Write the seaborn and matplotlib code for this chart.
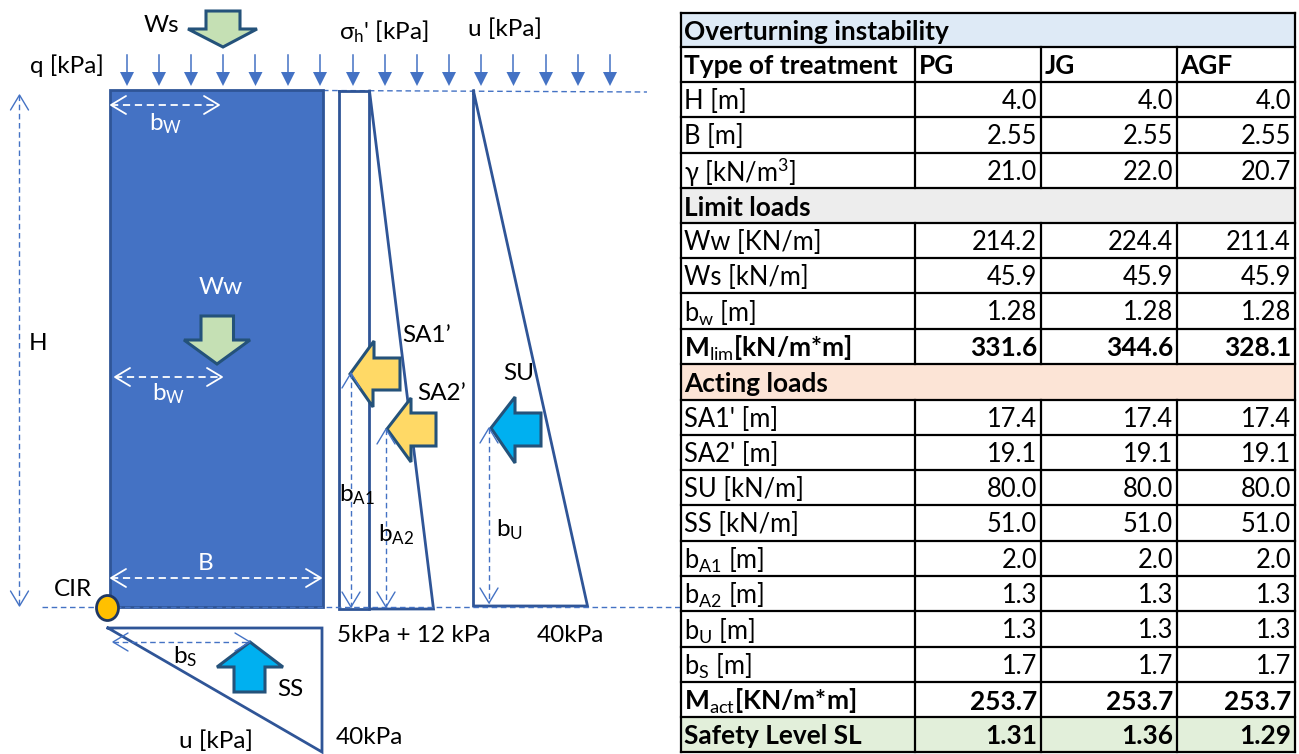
import math
import matplotlib
matplotlib.use("Agg")
import matplotlib.pyplot as plt
import seaborn as sns
from matplotlib.patches import Ellipse, Polygon, Rectangle

# ---------- table data ----------
title_row = "Overturning instability"
header_row = ["Type of treatment", "PG", "JG", "AGF"]
geom_labels = ["H [m]", "B [m]", r"$\gamma$ [kN/m$^{3}$]"]
geom_pg = ["4.0", "2.55", "21.0"]
geom_jg = ["4.0", "2.55", "22.0"]
geom_agf = ["4.0", "2.55", "20.7"]
limit_title = "Limit loads"
limit_labels = ["Ww [KN/m]", "Ws [kN/m]", r"b$_{\mathrm{w}}$ [m]"]
limit_pg = ["214.2", "45.9", "1.28"]
limit_jg = ["224.4", "45.9", "1.28"]
limit_agf = ["211.4", "45.9", "1.28"]
mlim_row = [r"M$_{\mathrm{lim}}$[kN/m*m]", "331.6", "344.6", "328.1"]
acting_title = "Acting loads"
acting_labels = ["SA1' [m]", "SA2' [m]", "SU [kN/m]", "SS [kN/m]",
                 r"b$_{\mathrm{A1}}$ [m]", r"b$_{\mathrm{A2}}$ [m]",
                 r"b$_{\mathrm{U}}$ [m]", r"b$_{\mathrm{S}}$ [m]"]
acting_pg = ["17.4", "19.1", "80.0", "51.0", "2.0", "1.3", "1.3", "1.7"]
acting_jg = ["17.4", "19.1", "80.0", "51.0", "2.0", "1.3", "1.3", "1.7"]
acting_agf = ["17.4", "19.1", "80.0", "51.0", "2.0", "1.3", "1.3", "1.7"]
mact_row = [r"M$_{\mathrm{act}}$[KN/m*m]", "253.7", "253.7", "253.7"]
safety_row = ["Safety Level SL", "1.31", "1.36", "1.29"]

# ---------- theme ----------
sns.set_theme(style="white")
plt.rcParams["font.family"] = ["Lato", "DejaVu Sans"]
plt.rcParams["mathtext.fontset"] = "custom"
plt.rcParams["mathtext.rm"] = "Lato"
plt.rcParams["mathtext.it"] = "Lato:italic"
plt.rcParams["mathtext.bf"] = "Lato:bold"
plt.rcParams["mathtext.default"] = "regular"

fig = plt.figure(figsize=(12.99, 7.54), dpi=100, facecolor="white")
ax = fig.add_axes([0, 0, 1, 1])
ax.set_axis_off()

BLUE = "#4472C4"
DARK = "#2F5597"
ARROW_EDGE = "#24527A"
GREEN = "#C5E0B4"
YELLOW = "#FFD966"
CYAN = "#00B0F0"
TXT = "#000000"
FS = 17.5


def line(xs, ys, color=DARK, lw=2.0, ls="-", z=3):
    sns.lineplot(x=xs, y=ys, sort=False, estimator=None, color=color, lw=lw,
                 linestyle=ls, ax=ax, legend=False, zorder=z,
                 solid_joinstyle="miter", solid_capstyle="projecting")


def txt(x, y, s, color=TXT, size=FS, ha="left", weight="normal", z=8):
    ax.text(x, y, s, color=color, fontsize=size, ha=ha, va="center",
            fontweight=weight, zorder=z)


def block(pts, fill):
    ax.add_patch(Polygon(pts, closed=True, fc=fill, ec=ARROW_EDGE, lw=2.2,
                         joinstyle="miter", zorder=6))


def dashed_arrow(p0, p1, color=BLUE, lw=1.0, both=False, hl=15, hw=9):
    line([p0[0], p1[0]], [p0[1], p1[1]], color=color, lw=lw, ls=(0, (4, 2.6)), z=7)
    ends = [(p1, p0)] + ([(p0, p1)] if both else [])
    for tip, frm in ends:
        d = math.hypot(tip[0] - frm[0], tip[1] - frm[1])
        ux, uy = (tip[0] - frm[0]) / d, (tip[1] - frm[1]) / d
        a = (tip[0] - ux * hl - uy * hw, tip[1] - uy * hl + ux * hw)
        b = (tip[0] - ux * hl + uy * hw, tip[1] - uy * hl - ux * hw)
        sns.lineplot(x=[a[0], tip[0], b[0]], y=[a[1], tip[1], b[1]], sort=False,
                     estimator=None, color=color, lw=lw, ax=ax, legend=False, zorder=7)


# ---------- wall body ----------
ax.add_patch(Rectangle((110, 90), 213, 517, fc=BLUE, ec=DARK, lw=2, zorder=2))

# reference dashed lines
line([323, 647], [90.5, 92], color=BLUE, lw=1.0, ls=(0, (4, 2.6)), z=1)
line([42, 681], [606.5, 606.5], color=BLUE, lw=1.0, ls=(0, (4, 2.6)), z=5)

# pressure diagrams
line([339.5, 369.5, 369.5, 339.5, 339.5], [91, 91, 609, 609, 91])
line([369.5, 433.5, 369.5], [91, 609, 609])
line([473.5, 473.5, 587.5, 473.5], [91, 606, 606, 91])
line([108, 322, 322, 108], [628, 628, 752, 628])

# load arrows on top
for qx in [127, 159, 191, 223, 255.5, 288, 320, 353, 385, 417, 449, 481, 513.5, 546, 578, 610]:
    line([qx, qx], [55, 74], color=BLUE, lw=1.1, z=4)
    ax.add_patch(Polygon([(qx - 7, 72), (qx + 7, 72), (qx, 86)], closed=True,
                         fc=BLUE, ec="none", zorder=4))

# block arrows
block([(206, 11), (240, 11), (240, 29), (257, 29), (223, 47), (188, 29), (206, 29)], GREEN)
block([(201, 316), (233.5, 316), (233.5, 340), (250, 340), (217, 364), (184, 340), (201, 340)], GREEN)
block([(350, 374), (374, 341), (374, 358), (400, 358), (400, 390), (373, 390), (373, 407)], YELLOW)
block([(387, 429), (411, 398), (411, 413), (436, 413), (436, 446), (411, 446), (411, 462)], YELLOW)
block([(491, 428), (515, 397), (515, 413), (541, 413), (541, 446), (515, 446), (515, 463)], CYAN)
block([(250, 642), (283, 667), (265, 667), (265, 692), (234, 692), (234, 667), (217, 667)], CYAN)

# dimension arrows
dashed_arrow((19.5, 95), (19.5, 606), both=True)
dashed_arrow((111, 105), (219, 105), color="white", lw=1.3, both=True)
dashed_arrow((115, 377), (222, 377), color="white", lw=1.3, both=True)
dashed_arrow((111, 578), (321, 578), color="white", lw=1.3, both=True)
dashed_arrow((351, 373), (351, 607), both=True)
dashed_arrow((386, 429), (386, 607), both=True)
dashed_arrow((489, 428), (489, 603), both=True)
dashed_arrow((113, 642), (250, 642), both=True)

ax.add_patch(Ellipse((107.5, 608), 22, 25, fc="#FFC000", ec="#1F3864", lw=2, zorder=9))

# diagram labels
txt(161.5, 25, "Ws", ha="center")
txt(339, 32, r"$\sigma_{h}$' [kPa]")
txt(468, 29, "u [kPa]")
txt(30, 66, "q [kPa]")
txt(38, 344, "H", ha="center")
txt(221, 287, "Ww", color="white", ha="center")
txt(149, 124, r"b$_{\mathrm{W}}$", color="white")
txt(152, 394, r"b$_{\mathrm{W}}$", color="white")
txt(206, 563, "B", color="white", ha="center")
txt(402, 336, "SA1’")
txt(503, 374, "SU")
txt(417, 394, "SA2’")
txt(339, 495, r"b$_{\mathrm{A1}}$")
txt(378, 535, r"b$_{\mathrm{A2}}$")
txt(496, 530, r"b$_{\mathrm{U}}$")
txt(54, 589, "CIR")
txt(337, 635, "5kPa + 12 kPa")
txt(537, 635, "40kPa")
txt(173, 657, r"b$_{\mathrm{S}}$")
txt(277, 690, "SS")
txt(179, 741, "u [kPa]")
txt(336, 737, "40kPa")

# ---------- table ----------
col_x = [681, 915, 1041, 1177, 1295]
row_y = [13, 47, 82, 117, 153, 188, 223, 258, 293, 329, 364, 400, 435, 470, 505,
         541, 576, 611, 647, 682, 717, 752]

rows = [("band", title_row, "#DEEAF6"), ("head", header_row)]
rows += [("data", [a, b, c, d]) for a, b, c, d in zip(geom_labels, geom_pg, geom_jg, geom_agf)]
rows += [("band", limit_title, "#EDEDED")]
rows += [("data", [a, b, c, d]) for a, b, c, d in zip(limit_labels, limit_pg, limit_jg, limit_agf)]
rows += [("bold", mlim_row), ("band", acting_title, "#FCE4D6")]
rows += [("data", [a, b, c, d]) for a, b, c, d in zip(acting_labels, acting_pg, acting_jg, acting_agf)]
rows += [("bold", mact_row), ("safety", safety_row)]

ax.add_patch(Rectangle((col_x[0], row_y[0]), col_x[-1] - col_x[0], row_y[-1] - row_y[0],
                       fc="white", ec="none", zorder=6))
TS_R = 18.4
TS_B = 18.9
for i, row in enumerate(rows):
    y0, y1 = row_y[i], row_y[i + 1]
    yc = (y0 + y1) / 2 + 2
    kind = row[0]
    if kind == "band":
        ax.add_patch(Rectangle((col_x[0], y0), col_x[-1] - col_x[0], y1 - y0, fc=row[2],
                               ec="none", zorder=7))
        txt(col_x[0] + 3.5, yc, row[1], size=TS_B, weight="bold", z=9)
    else:
        if kind == "safety":
            ax.add_patch(Rectangle((col_x[0], y0), col_x[-1] - col_x[0], y1 - y0, fc="#E2EFDA",
                                   ec="none", zorder=7))
        for j, s in enumerate(row[1]):
            w = "normal" if kind == "data" else "bold"
            size = TS_R if kind == "data" else TS_B
            if j == 0 or kind == "head":
                txt(col_x[j] + 3.5, yc, s, size=size, weight=w, z=9)
            else:
                txt(col_x[j + 1] - 4, yc, s, size=size, weight=w, ha="right", z=9)
        for x in col_x[1:-1]:
            line([x, x], [y0, y1], color="black", lw=1.6, z=8)
for y in row_y:
    line([col_x[0], col_x[-1]], [y, y], color="black", lw=1.6, z=8)
for x in (col_x[0], col_x[-1]):
    line([x, x], [row_y[0], row_y[-1]], color="black", lw=1.6, z=8)

ax.set_xlim(0, 1299)
ax.set_ylim(754, 0)
fig.savefig("out.png", dpi=100, facecolor="white")
